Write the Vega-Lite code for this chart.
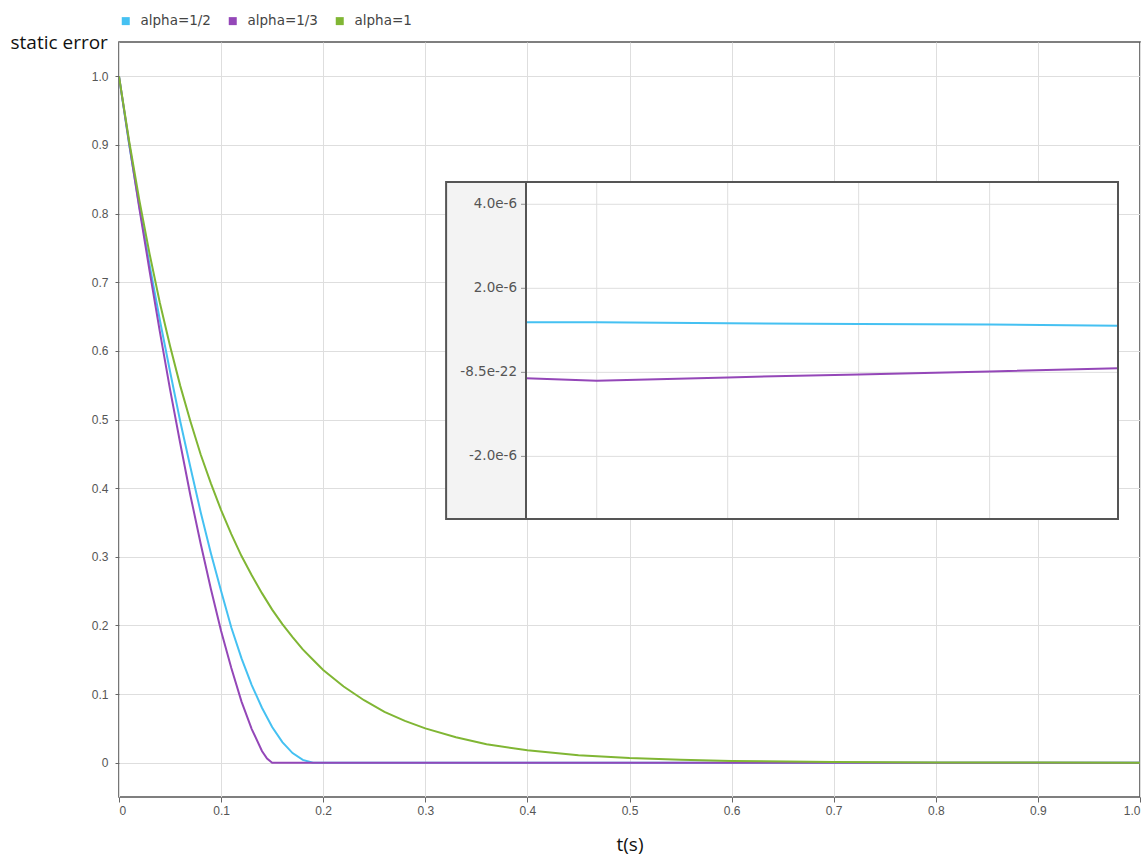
{
  "$schema": "https://vega.github.io/schema/vega-lite/v6.json",
  "background": "white",
  "padding": {"left": 10, "top": 14, "right": 0, "bottom": 3},
  "width": 1021,
  "height": 755,
  "config": {
    "font": "Liberation Sans",
    "view": {"fill": "white", "stroke": "#555", "strokeWidth": 1.6},
    "axis": {"labelFont": "Liberation Sans", "labelFontSize": 12, "labelColor": "#555", "tickColor": "#666", "gridColor": "#dedede", "gridWidth": 1, "domain": false}
  },
  "datasets": {
    "main": [
      {"t": 0, "v": 1, "s": "alpha=1/2"},
      {"t": 0.01, "v": 0.9, "s": "alpha=1/2"},
      {"t": 0.02, "v": 0.81, "s": "alpha=1/2"},
      {"t": 0.03, "v": 0.725, "s": "alpha=1/2"},
      {"t": 0.04, "v": 0.645, "s": "alpha=1/2"},
      {"t": 0.05, "v": 0.57, "s": "alpha=1/2"},
      {"t": 0.06, "v": 0.497, "s": "alpha=1/2"},
      {"t": 0.07, "v": 0.43, "s": "alpha=1/2"},
      {"t": 0.08, "v": 0.365, "s": "alpha=1/2"},
      {"t": 0.09, "v": 0.305, "s": "alpha=1/2"},
      {"t": 0.1, "v": 0.25, "s": "alpha=1/2"},
      {"t": 0.11, "v": 0.197, "s": "alpha=1/2"},
      {"t": 0.12, "v": 0.152, "s": "alpha=1/2"},
      {"t": 0.13, "v": 0.113, "s": "alpha=1/2"},
      {"t": 0.14, "v": 0.08, "s": "alpha=1/2"},
      {"t": 0.15, "v": 0.052, "s": "alpha=1/2"},
      {"t": 0.16, "v": 0.03, "s": "alpha=1/2"},
      {"t": 0.17, "v": 0.014, "s": "alpha=1/2"},
      {"t": 0.18, "v": 0.004, "s": "alpha=1/2"},
      {"t": 0.19, "v": 0, "s": "alpha=1/2"},
      {"t": 0.5, "v": 0, "s": "alpha=1/2"},
      {"t": 1.0, "v": 0, "s": "alpha=1/2"},
      {"t": 0, "v": 1, "s": "alpha=1/3"},
      {"t": 0.01, "v": 0.902, "s": "alpha=1/3"},
      {"t": 0.02, "v": 0.807, "s": "alpha=1/3"},
      {"t": 0.03, "v": 0.716, "s": "alpha=1/3"},
      {"t": 0.04, "v": 0.628, "s": "alpha=1/3"},
      {"t": 0.05, "v": 0.544, "s": "alpha=1/3"},
      {"t": 0.06, "v": 0.465, "s": "alpha=1/3"},
      {"t": 0.07, "v": 0.389, "s": "alpha=1/3"},
      {"t": 0.08, "v": 0.319, "s": "alpha=1/3"},
      {"t": 0.09, "v": 0.253, "s": "alpha=1/3"},
      {"t": 0.1, "v": 0.192, "s": "alpha=1/3"},
      {"t": 0.11, "v": 0.138, "s": "alpha=1/3"},
      {"t": 0.12, "v": 0.089, "s": "alpha=1/3"},
      {"t": 0.13, "v": 0.049, "s": "alpha=1/3"},
      {"t": 0.14, "v": 0.017, "s": "alpha=1/3"},
      {"t": 0.145, "v": 0.006, "s": "alpha=1/3"},
      {"t": 0.15, "v": 0, "s": "alpha=1/3"},
      {"t": 0.5, "v": 0, "s": "alpha=1/3"},
      {"t": 1.0, "v": 0, "s": "alpha=1/3"},
      {"t": 0, "v": 1, "s": "alpha=1"},
      {"t": 0.01, "v": 0.905, "s": "alpha=1"},
      {"t": 0.02, "v": 0.819, "s": "alpha=1"},
      {"t": 0.03, "v": 0.741, "s": "alpha=1"},
      {"t": 0.04, "v": 0.67, "s": "alpha=1"},
      {"t": 0.05, "v": 0.607, "s": "alpha=1"},
      {"t": 0.06, "v": 0.549, "s": "alpha=1"},
      {"t": 0.07, "v": 0.497, "s": "alpha=1"},
      {"t": 0.08, "v": 0.449, "s": "alpha=1"},
      {"t": 0.09, "v": 0.407, "s": "alpha=1"},
      {"t": 0.1, "v": 0.368, "s": "alpha=1"},
      {"t": 0.11, "v": 0.333, "s": "alpha=1"},
      {"t": 0.12, "v": 0.301, "s": "alpha=1"},
      {"t": 0.13, "v": 0.273, "s": "alpha=1"},
      {"t": 0.14, "v": 0.247, "s": "alpha=1"},
      {"t": 0.15, "v": 0.223, "s": "alpha=1"},
      {"t": 0.16, "v": 0.202, "s": "alpha=1"},
      {"t": 0.17, "v": 0.183, "s": "alpha=1"},
      {"t": 0.18, "v": 0.165, "s": "alpha=1"},
      {"t": 0.19, "v": 0.15, "s": "alpha=1"},
      {"t": 0.2, "v": 0.135, "s": "alpha=1"},
      {"t": 0.22, "v": 0.111, "s": "alpha=1"},
      {"t": 0.24, "v": 0.091, "s": "alpha=1"},
      {"t": 0.26, "v": 0.074, "s": "alpha=1"},
      {"t": 0.28, "v": 0.061, "s": "alpha=1"},
      {"t": 0.3, "v": 0.05, "s": "alpha=1"},
      {"t": 0.33, "v": 0.037, "s": "alpha=1"},
      {"t": 0.36, "v": 0.027, "s": "alpha=1"},
      {"t": 0.4, "v": 0.018, "s": "alpha=1"},
      {"t": 0.45, "v": 0.011, "s": "alpha=1"},
      {"t": 0.5, "v": 0.0067, "s": "alpha=1"},
      {"t": 0.55, "v": 0.0041, "s": "alpha=1"},
      {"t": 0.6, "v": 0.0025, "s": "alpha=1"},
      {"t": 0.7, "v": 0.0009, "s": "alpha=1"},
      {"t": 0.8, "v": 0.0003, "s": "alpha=1"},
      {"t": 0.9, "v": 0.0001, "s": "alpha=1"},
      {"t": 1.0, "v": 0, "s": "alpha=1"}
    ],
    "inset": [
      {"t": 0.546, "v": 1.19e-6, "s": "alpha=1/2"},
      {"t": 0.6, "v": 1.19e-6, "s": "alpha=1/2"},
      {"t": 0.7, "v": 1.17e-6, "s": "alpha=1/2"},
      {"t": 0.8, "v": 1.15e-6, "s": "alpha=1/2"},
      {"t": 0.9, "v": 1.14e-6, "s": "alpha=1/2"},
      {"t": 0.998, "v": 1.11e-6, "s": "alpha=1/2"},
      {"t": 0.546, "v": -0.14e-6, "s": "alpha=1/3"},
      {"t": 0.6, "v": -0.2e-6, "s": "alpha=1/3"},
      {"t": 0.7, "v": -0.12e-6, "s": "alpha=1/3"},
      {"t": 0.8, "v": -0.05e-6, "s": "alpha=1/3"},
      {"t": 0.9, "v": 0.02e-6, "s": "alpha=1/3"},
      {"t": 0.998, "v": 0.1e-6, "s": "alpha=1/3"}
    ],
    "insetXTicks": [{"t": 0.6}, {"t": 0.7}, {"t": 0.8}, {"t": 0.9}],
    "insetYTicks": [{"v": 4e-6, "lbl": "4.0e-6"}, {"v": 2e-6, "lbl": "2.0e-6"}, {"v": 0, "lbl": "-8.5e-22"}, {"v": -2e-6, "lbl": "-2.0e-6"}],
    "one": [{"k": 1}]
  },
  "resolve": {"scale": {"x": "independent", "y": "independent"}},
  "layer": [
    {
      "data": {"name": "main"},
      "mark": {"type": "line", "strokeWidth": 2, "clip": true},
      "encoding": {
        "x": {"field": "t", "type": "quantitative", "scale": {"domain": [0, 1], "nice": false},
          "axis": {"values": [0, 0.1, 0.2, 0.3, 0.4, 0.5, 0.6, 0.7, 0.8, 0.9, 1.0], "labelExpr": "datum.value == 0 ? '0' : format(datum.value, '.1f')", "tickSize": 5, "labelPadding": 3, "title": "t(s)", "titleFont": "Open Sans", "titleFontSize": 19, "titleFontWeight": "normal", "titleColor": "#111", "titlePadding": 19}},
        "y": {"field": "v", "type": "quantitative", "scale": {"domain": [-0.05, 1.05], "nice": false, "zero": false},
          "axis": {"values": [0, 0.1, 0.2, 0.3, 0.4, 0.5, 0.6, 0.7, 0.8, 0.9, 1.0], "labelExpr": "datum.value == 0 ? '0' : format(datum.value, '.1f')", "tickSize": 4, "labelPadding": 7, "title": "static error", "titleFont": "Open Sans", "titleFontSize": 19, "titleFontWeight": "normal", "titleColor": "#111", "titleAngle": 0, "titleAlign": "left", "titleBaseline": "alphabetic", "titleX": -109, "titleY": 6}},
        "color": {"field": "s", "type": "nominal", "sort": ["alpha=1/2", "alpha=1/3", "alpha=1"],
          "scale": {"domain": ["alpha=1/2", "alpha=1/3", "alpha=1"], "range": ["#45c1f2", "#9447b8", "#80b634"]},
          "legend": {"title": null, "orient": "top", "direction": "horizontal", "symbolType": "square", "symbolSize": 64, "labelFontSize": 13.5, "labelColor": "#444", "labelFont": "DejaVu Sans", "columnPadding": 15, "labelOffset": 8, "offset": 14, "padding": 0,
            "encode": {"symbols": {"update": {"fill": {"scale": "color", "field": "value"}, "strokeWidth": {"value": 0}, "fillOpacity": {"value": 1}}}}}}
      }
    },
    {
      "layer": [
        {
          "data": {"name": "one"},
          "mark": {"type": "rect", "fill": "#f3f3f3", "stroke": "#555", "strokeWidth": 2},
          "encoding": {
            "x": {"datum": 0.485, "type": "quantitative", "scale": {"domain": [0.546, 0.998], "range": [407, 999], "nice": false, "zero": false}, "axis": null},
            "x2": {"datum": 0.546},
            "y": {"datum": -3.49e-6, "type": "quantitative", "scale": {"domain": [-3.49e-6, 4.53e-6], "range": [477, 140], "nice": false, "zero": false}, "axis": null},
            "y2": {"datum": 4.53e-6}
          }
        },
        {
          "data": {"name": "one"},
          "mark": {"type": "rect", "fill": "white"},
          "encoding": {
            "x": {"datum": 0.546, "type": "quantitative", "scale": {"domain": [0.546, 0.998], "range": [407, 999], "nice": false, "zero": false}, "axis": null},
            "x2": {"datum": 0.998},
            "y": {"datum": -3.49e-6, "type": "quantitative", "scale": {"domain": [-3.49e-6, 4.53e-6], "range": [477, 140], "nice": false, "zero": false}, "axis": null},
            "y2": {"datum": 4.53e-6}
          }
        },
        {
          "data": {"name": "insetXTicks"},
          "mark": {"type": "rule", "color": "#dedede", "strokeWidth": 1},
          "encoding": {
            "x": {"field": "t", "type": "quantitative", "scale": {"domain": [0.546, 0.998], "range": [407, 999], "nice": false, "zero": false}, "axis": null},
            "y": {"datum": -3.49e-6, "type": "quantitative", "scale": {"domain": [-3.49e-6, 4.53e-6], "range": [477, 140], "nice": false, "zero": false}, "axis": null},
            "y2": {"datum": 4.53e-6}
          }
        },
        {
          "data": {"name": "insetYTicks"},
          "mark": {"type": "rule", "color": "#dedede", "strokeWidth": 1},
          "encoding": {
            "x": {"datum": 0.546, "type": "quantitative", "scale": {"domain": [0.546, 0.998], "range": [407, 999], "nice": false, "zero": false}, "axis": null},
            "x2": {"datum": 0.998},
            "y": {"field": "v", "type": "quantitative", "scale": {"domain": [-3.49e-6, 4.53e-6], "range": [477, 140], "nice": false, "zero": false}, "axis": null}
          }
        },
        {
          "data": {"name": "inset"},
          "mark": {"type": "line", "strokeWidth": 2},
          "encoding": {
            "x": {"field": "t", "type": "quantitative", "scale": {"domain": [0.546, 0.998], "range": [407, 999], "nice": false, "zero": false}, "axis": null},
            "y": {"field": "v", "type": "quantitative", "scale": {"domain": [-3.49e-6, 4.53e-6], "range": [477, 140], "nice": false, "zero": false}, "axis": null},
            "color": {"field": "s", "type": "nominal", "sort": ["alpha=1/2", "alpha=1/3", "alpha=1"]}
          }
        },
        {
          "data": {"name": "insetYTicks"},
          "mark": {"type": "text", "align": "right", "baseline": "middle", "dx": -9, "fontSize": 13.5, "font": "DejaVu Sans", "color": "#555"},
          "encoding": {
            "x": {"datum": 0.546, "type": "quantitative", "scale": {"domain": [0.546, 0.998], "range": [407, 999], "nice": false, "zero": false}, "axis": null},
            "y": {"field": "v", "type": "quantitative", "scale": {"domain": [-3.49e-6, 4.53e-6], "range": [477, 140], "nice": false, "zero": false}, "axis": null},
            "text": {"field": "lbl"}
          }
        },
        {
          "data": {"name": "insetYTicks"},
          "mark": {"type": "tick", "orient": "horizontal", "color": "#666", "size": 5, "thickness": 1, "xOffset": -2.5},
          "encoding": {
            "x": {"datum": 0.546, "type": "quantitative", "scale": {"domain": [0.546, 0.998], "range": [407, 999], "nice": false, "zero": false}, "axis": null},
            "y": {"field": "v", "type": "quantitative", "scale": {"domain": [-3.49e-6, 4.53e-6], "range": [477, 140], "nice": false, "zero": false}, "axis": null}
          }
        },
        {
          "data": {"name": "one"},
          "mark": {"type": "rect", "fillOpacity": 0, "stroke": "#555", "strokeWidth": 2},
          "encoding": {
            "x": {"datum": 0.546, "type": "quantitative", "scale": {"domain": [0.546, 0.998], "range": [407, 999], "nice": false, "zero": false}, "axis": null},
            "x2": {"datum": 0.998},
            "y": {"datum": -3.49e-6, "type": "quantitative", "scale": {"domain": [-3.49e-6, 4.53e-6], "range": [477, 140], "nice": false, "zero": false}, "axis": null},
            "y2": {"datum": 4.53e-6}
          }
        }
      ]
    }
  ]
}
